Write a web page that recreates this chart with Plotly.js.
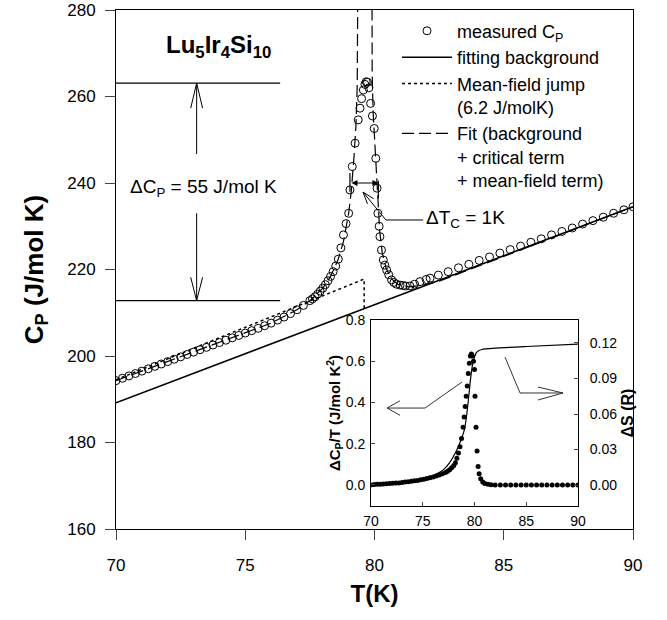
<!DOCTYPE html>
<html>
<head>
<meta charset="utf-8">
<script src="https://cdn.plot.ly/plotly-3.0.1.min.js"></script>
<style>
  html, body { margin: 0; padding: 0; background: #fff; }
  #chart { width: 667px; height: 620px; }
</style>
</head>
<body>
<div id="chart"></div>
<script>
// ---------- main plot data ----------
const measT = [70.00,70.25,70.50,70.75,71.00,71.25,71.50,71.75,72.00,72.25,72.50,72.75,73.00,73.25,73.50,73.75,74.00,74.25,74.50,74.75,75.00,75.25,75.50,75.75,76.00,76.25,76.50,76.75,77.00,77.25,77.50,
  77.60,77.70,77.80,77.90,78.00,78.10,78.20,78.30,78.40,78.50,78.60,78.70,78.80,78.90,79.00,79.05,79.14,79.25,79.37,79.44,79.50,79.57,79.63,79.68,79.73,79.78,79.85,79.92,79.99,80.05,80.10,80.13,80.18,80.21,80.27,80.34,80.40,80.47,80.55,80.66,80.75,80.85,80.99,81.10,81.20,81.37,81.55,81.76,82.00,82.15,82.47,
  82.85,83.25,83.65,84.05,84.45,84.85,85.25,85.65,86.05,86.45,86.85,87.25,87.65,88.05,88.45,88.85,89.25,89.65,90.00];
const measCp = [194.3,194.85,195.4,195.95,196.5,197.05,197.6,198.15,198.7,199.25,199.8,200.35,200.9,201.45,202.0,202.55,203.1,203.65,204.2,204.75,205.3,205.85,206.4,207.0,207.6,208.3,209.0,209.8,210.7,211.7,212.8,
  213.2,213.7,214.3,215.0,215.7,216.5,217.4,218.4,219.5,220.8,222.4,225.0,228.0,230.6,233.0,238.4,243.8,249.2,254.6,257.3,259.5,261.5,262.8,263.4,263.3,262.0,258.4,255.5,252.6,245.7,238.8,233.0,230.0,227.6,224.5,222.2,221.0,219.9,218.8,217.6,217.0,216.6,216.4,216.3,216.2,216.2,216.6,217.2,217.7,218.0,218.7,
  219.5,220.4,221.2,222.1,222.9,223.8,224.6,225.4,226.3,227.1,228.0,228.8,229.6,230.5,231.3,232.1,233.0,233.8,234.5];

const bgT = [70, 90];
const bgCp = [189.2, 234.5];

const mfT = [70, 79.6, 79.6];
const mfCp = [194.5, 217.8, 210.9];

const fitT = [70,72,74,76,77,77.5,78,78.3,78.6,78.8,79.0,79.1,79.2,79.28,79.33,79.36,79.37, null,
  79.9,79.91,79.95,80.0,80.05,80.12,80.2,80.3,80.45,80.65,80.9,81.3,81.8,82.5,90];
const fitCp = [194.3,198.7,203.1,207.6,210.7,212.8,215.7,218.4,222.4,226.5,233.0,238.0,245.5,253.0,262.0,275.0,300, null,
  300,265,256,250,244,236,229,223.8,220.3,217.9,216.6,216.0,216.3,217.3,234.5];

// ---------- inset data ----------
const insT = [70,70.3,70.6,70.9,71.2,71.5,71.8,72.1,72.4,72.7,73.0,73.3,73.6,73.9,74.2,74.5,74.8,75.1,75.4,75.7,76.0,76.3,76.6,76.9,77.2,77.4,77.6,77.8,78.0,78.15,78.3,78.45,78.6,78.75,78.9,79.0,79.1,79.2,79.3,79.4,79.5,79.6,79.7,79.8,79.9,80.0,80.05,80.15,80.25,80.35,80.45,80.6,80.8,81.0,81.3,81.6,
  82.0,82.5,83.0,83.5,84.0,84.5,85.0,85.5,86.0,86.5,87.0,87.5,88.0,88.5,89.0,89.5,90.0];
const insDCpT = [0.0,0.002,0.003,0.004,0.005,0.006,0.007,0.008,0.009,0.010,0.012,0.014,0.016,0.018,0.020,0.022,0.025,0.028,0.031,0.035,0.039,0.043,0.048,0.054,0.061,0.067,0.074,0.083,0.095,0.108,0.13,0.155,0.185,0.225,0.28,0.33,0.38,0.43,0.48,0.54,0.59,0.625,0.635,0.625,0.60,0.56,0.43,0.28,0.165,0.09,0.055,0.03,0.015,0.007,0.003,0.001,
  0,0,0,0,0,0,0,0,0,0,0,0,0,0,0,0,0];

const entT = [70,72,74,75,76,77,77.6,78.2,78.6,79.0,79.2,79.4,79.6,79.8,80.0,80.2,80.4,80.7,81,85,90];
const entS = [0.0,0.001,0.003,0.005,0.008,0.013,0.019,0.028,0.036,0.046,0.056,0.071,0.088,0.101,0.108,0.112,0.1135,0.1145,0.115,0.117,0.119];

// tick labels
const mainXTicks = [70,75,80,85,90];
const mainYTicks = [160,180,200,220,240,260,280];
const insXTicks = [70,75,80,85,90];
const insYLTicks = [0.0,0.2,0.4,0.6,0.8];
const insYRTicks = [0.00,0.03,0.06,0.09,0.12];

const FONT = 'Liberation Sans, Arial, Helvetica, sans-serif';
const BLK = '#000';

const traces = [
  {x: measT, y: measCp, type: 'scatter', mode: 'markers', name: 'measured C<sub>P</sub>',
   marker: {symbol: 'circle-open', size: 8, color: BLK, line: {width: 1, color: BLK}}, xaxis: 'x', yaxis: 'y'},
  {x: bgT, y: bgCp, type: 'scatter', mode: 'lines', name: 'fitting background',
   line: {color: BLK, width: 1.5}, xaxis: 'x', yaxis: 'y'},
  {x: mfT, y: mfCp, type: 'scatter', mode: 'lines', name: 'Mean-field jump<br>(6.2 J/molK)',
   line: {color: BLK, width: 1.5, dash: 'dot'}, xaxis: 'x', yaxis: 'y'},
  {x: fitT, y: fitCp, type: 'scatter', mode: 'lines', name: 'Fit (background<br>+ critical term<br>+ mean-field term)',
   line: {color: BLK, width: 1.2, dash: '12px,5px'}, connectgaps: false, xaxis: 'x', yaxis: 'y'},
  {x: insT, y: insDCpT, type: 'scatter', mode: 'markers', showlegend: false,
   marker: {symbol: 'circle', size: 5, color: BLK}, xaxis: 'x2', yaxis: 'y2'},
  {x: entT, y: entS, type: 'scatter', mode: 'lines', showlegend: false,
   line: {color: BLK, width: 1.2, shape: 'spline', smoothing: 0.6}, xaxis: 'x2', yaxis: 'y3'}
];

const shapes = [
  {type: 'line', xref: 'x', yref: 'y', x0: 70, x1: 76.35, y0: 263.1, y1: 263.1, line: {color: BLK, width: 1.2}},
  {type: 'line', xref: 'x', yref: 'y', x0: 70, x1: 76.35, y0: 212.8, y1: 212.8, line: {color: BLK, width: 1.2}},
  {type: 'path', xref: 'x', yref: 'y', path: 'M73.12,246.7 L73.12,263.1 M72.89,257.3 L73.12,263.1 L73.35,257.3', line: {color: BLK, width: 1}},
  {type: 'path', xref: 'x', yref: 'y', path: 'M73.12,233.0 L73.12,212.8 M72.89,218.2 L73.12,212.8 L73.35,218.2', line: {color: BLK, width: 1}},
  {type: 'line', xref: 'x', yref: 'y', x0: 79.05, x1: 79.05, y0: 238.0, y1: 242.3, line: {color: BLK, width: 1.2}},
  {type: 'line', xref: 'x', yref: 'y', x0: 80.15, x1: 80.15, y0: 236.5, y1: 240.5, line: {color: BLK, width: 1.2}},
  {type: 'path', xref: 'x', yref: 'y', path: 'M81.88,231.45 L80.44,231.45 L79.555,237.92 M79.969,236.35 L79.555,237.92 L79.729,235.19', line: {color: BLK, width: 1}},
  {type: 'path', xref: 'x2', yref: 'y2', path: 'M78.79,0.499 L75.22,0.373 L71.55,0.373 M72.8,0.408 L71.55,0.373 L72.8,0.338', line: {color: '#333', width: 1}},
  {type: 'path', xref: 'x2', yref: 'y2', path: 'M82.95,0.62 L84.40,0.446 L88.55,0.446 M86.14,0.475 L88.55,0.446 L86.14,0.412', line: {color: '#333', width: 1}}
];

const annotations = [
  {xref: 'x', yref: 'y', x: 73.98, y: 271.5, text: '<b>Lu<sub>5</sub>Ir<sub>4</sub>Si<sub>10</sub></b>', showarrow: false,
   font: {family: FONT, size: 24, color: BLK}},
  {xref: 'x', yref: 'y', x: 73.4, y: 238.8, text: '\u0394C<sub>P</sub> = 55 J/mol K', showarrow: false,
   font: {family: FONT, size: 19, color: BLK}},
  {xref: 'x', yref: 'y', x: 81.93, y: 231.7, xanchor: 'left', text: '\u0394T<sub>C</sub> = 1K', showarrow: false,
   font: {family: FONT, size: 19, color: BLK}},
  {xref: 'x', yref: 'y', axref: 'x', ayref: 'y', x: 80.15, y: 240.0, ax: 79.05, ay: 240.0, text: '',
   showarrow: true, arrowhead: 2, arrowside: 'end+start', arrowsize: 1, arrowwidth: 1.2, arrowcolor: BLK, standoff: 0, startstandoff: 0}
];

const layout = {
  width: 667, height: 620,
  margin: {l: 116, r: 34, t: 10, b: 91},
  paper_bgcolor: '#fff', plot_bgcolor: '#fff',
  font: {family: FONT, color: BLK, size: 17},
  showlegend: true,
  legend: {x: 0.5435, xanchor: 'left', y: 0.995, yanchor: 'top', bgcolor: 'rgba(0,0,0,0)', borderwidth: 0,
           font: {family: FONT, size: 18, color: BLK}, valign: 'top', tracegroupgap: 0, itemwidth: 50},
  xaxis: {domain: [0, 1], range: [70, 90], tickvals: mainXTicks, ticks: 'outside', ticklen: 10, tickwidth: 1,
          showline: true, linecolor: BLK, linewidth: 1, mirror: true, showgrid: false, zeroline: false,
          tickfont: {family: FONT, size: 17}, ticklabelstandoff: 11,
          title: {text: '<b>T(K)</b>', font: {family: FONT, size: 24}, standoff: 10}},
  yaxis: {domain: [0, 1], range: [160, 280], tickvals: mainYTicks, ticks: 'outside', ticklen: 10, tickwidth: 1,
          showline: true, linecolor: BLK, linewidth: 1, mirror: true, showgrid: false, zeroline: false,
          tickfont: {family: FONT, size: 17}, ticklabelstandoff: 6,
          title: {text: '<b>C<sub>P</sub> (J/mol K)</b>', font: {family: FONT, size: 26}, standoff: 16}},
  xaxis2: {domain: [0.4932, 0.8936], anchor: 'y2', range: [70, 90], tickvals: insXTicks, ticks: 'inside', ticklen: 4,
           showline: true, linecolor: BLK, linewidth: 1, mirror: true, showgrid: false, zeroline: false,
           tickfont: {family: FONT, size: 14}, ticklabelstandoff: 2},
  yaxis2: {domain: [0.0443, 0.4027], anchor: 'x2', range: [-0.102, 0.8], tickvals: insYLTicks, tickformat: '.1f',
           ticks: 'inside', ticklen: 4, showline: true, linecolor: BLK, linewidth: 1, mirror: false, showgrid: false, zeroline: false,
           tickfont: {family: FONT, size: 14}, ticklabelstandoff: 2,
           title: {text: '<b>\u0394C<sub>P</sub>/T (J/mol K<sup>2</sup>)</b>', font: {family: FONT, size: 15}, standoff: 1}},
  yaxis3: {overlaying: 'y2', anchor: 'x2', side: 'right', range: [-0.0177, 0.1394], tickvals: insYRTicks, tickformat: '.2f',
           ticks: 'inside', ticklen: 4, showline: true, linecolor: BLK, linewidth: 1, showgrid: false, zeroline: false,
           tickfont: {family: FONT, size: 14}, ticklabelstandoff: 8,
           title: {text: '<b>\u0394S (R)</b>', font: {family: FONT, size: 16}, standoff: 5}},
  shapes: shapes,
  annotations: annotations
};

Plotly.newPlot('chart', traces, layout, {displayModeBar: false, staticPlot: true});
</script>
</body>
</html>
